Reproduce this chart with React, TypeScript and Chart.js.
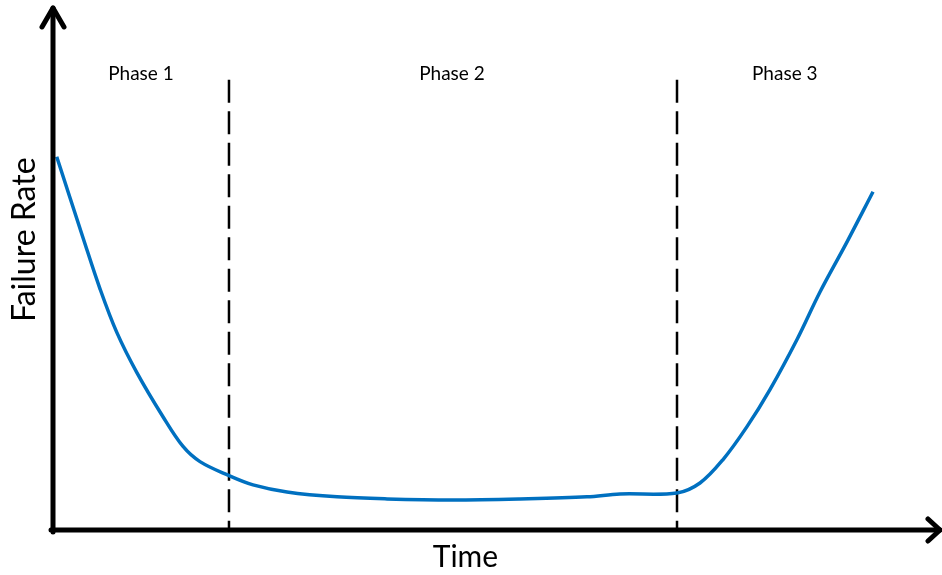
import React, { useEffect, useRef } from "react";
import { Chart, registerables } from "chart.js";

Chart.register(...registerables);

// Data (time in arbitrary units 0..100, failure rate 0..100)
const timePoints = [0.42, 3.42, 5.3, 7.18, 9.44, 12.4, 14.66, 16.57, 19.73, 22.55, 26.38, 32.02, 37.66, 45.1, 52.65, 60.2, 63.92, 70.35, 72.94, 75.54, 78.24, 80.83, 83.88, 86.47, 89.52, 92.45];
const failureRate = [71.5, 55.8, 46.2, 37.9, 30.2, 21.7, 16.0, 13.1, 10.5, 8.65, 7.3, 6.35, 5.96, 5.77, 5.96, 6.35, 6.9, 7.1, 9.0, 13.5, 19.8, 26.9, 36.5, 45.6, 55.2, 64.8];
const phaseBoundaries = [19.84, 70.35];
const boundaryTop = 86.25;
const phaseLabels = ["Phase 1", "Phase 2", "Phase 3"];
const phaseLabelX = [9.92, 44.98, 82.5];
const phaseLabelY = 87.4;
const xTitle = "Time";
const yTitle = "Failure Rate";

const FONT = "Lato, 'Open Sans', sans-serif";

const annotationPlugin = {
  id: "bathtubDecor",
  afterDatasetsDraw(chart: any) {
    const { ctx, chartArea, scales } = chart;
    const xs = scales.x;
    const ys = scales.y;
    const left = chartArea.left;
    const bottom = chartArea.bottom;
    const top = chartArea.top;
    const right = chartArea.right;
    ctx.save();
    ctx.strokeStyle = "#000";
    ctx.lineWidth = 5;
    ctx.lineCap = "round";
    ctx.lineJoin = "round";
    // y axis
    ctx.beginPath();
    ctx.moveTo(left, bottom + 2);
    ctx.lineTo(left, top);
    ctx.stroke();
    // x axis
    ctx.beginPath();
    ctx.moveTo(left - 2, bottom);
    ctx.lineTo(right, bottom);
    ctx.stroke();
    // top arrow
    ctx.beginPath();
    ctx.moveTo(left - 11, top + 19);
    ctx.lineTo(left, top);
    ctx.lineTo(left + 11, top + 19);
    ctx.stroke();
    // right arrow
    ctx.beginPath();
    ctx.moveTo(right - 12, bottom - 11);
    ctx.lineTo(right, bottom);
    ctx.lineTo(right - 12, bottom + 11);
    ctx.stroke();

    // phase labels
    ctx.fillStyle = "#000";
    ctx.textAlign = "center";
    ctx.textBaseline = "middle";
    ctx.font = `19px ${FONT}`;
    phaseLabels.forEach((lbl, i) => {
      ctx.fillText(lbl, xs.getPixelForValue(phaseLabelX[i]), ys.getPixelForValue(phaseLabelY));
    });

    // axis titles
    ctx.font = `30px ${FONT}`;
    ctx.fillText(xTitle, xs.getPixelForValue(46.5), bottom + 27);
    ctx.save();
    ctx.font = `32px ${FONT}`;
    ctx.translate(25, ys.getPixelForValue(55.6));
    ctx.rotate(-Math.PI / 2);
    ctx.fillText(yTitle, 0, 0);
    ctx.restore();
    ctx.restore();
  },
};

export default function App() {
  const canvasRef = useRef<HTMLCanvasElement | null>(null);

  useEffect(() => {
    if (!canvasRef.current) return;
    const boundaryDatasets = phaseBoundaries.map((b) => ({
      type: "line" as const,
      data: [
        { x: b, y: boundaryTop },
        { x: b, y: 0 },
      ],
      borderColor: "#000",
      borderWidth: 2.5,
      borderDash: [23, 8.5],
      pointRadius: 0,
      fill: false,
      tension: 0,
    }));
    const chart = new Chart(canvasRef.current, {
      type: "line",
      data: {
        datasets: [
          {
            data: timePoints.map((t, i) => ({ x: t, y: failureRate[i] })),
            borderColor: "#0070C0",
            borderWidth: 3.5,
            pointRadius: 0,
            tension: 0.35,
            fill: false,
          },
          ...boundaryDatasets,
        ],
      } as any,
      options: {
        animation: false,
        responsive: false,
        maintainAspectRatio: false,
        layout: { padding: { left: 53, right: 2, top: 8, bottom: 45 } },
        plugins: { legend: { display: false }, tooltip: { enabled: false } },
        scales: {
          x: { type: "linear", min: 0, max: 100, display: false },
          y: { type: "linear", min: 0, max: 100, display: false },
        },
      },
      plugins: [annotationPlugin],
    });
    return () => chart.destroy();
  }, []);

  return (
    <div style={{ position: "fixed", left: 0, top: 0, width: 942, height: 575, background: "#fff" }}>
      <canvas ref={canvasRef} width={942} height={575} style={{ width: 942, height: 575, display: "block" }} />
    </div>
  );
}
